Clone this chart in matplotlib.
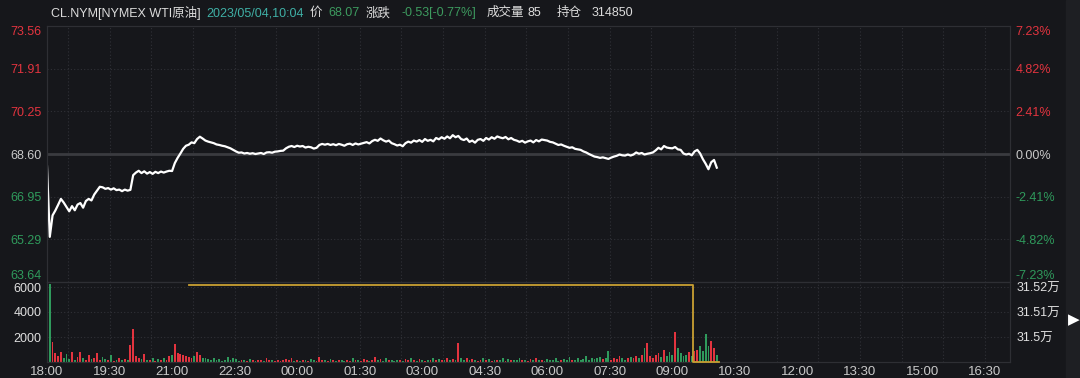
import numpy as np
import matplotlib.pyplot as plt
from matplotlib.patches import Rectangle

plt.rcParams['font.family'] = ['Liberation Sans', 'Noto Sans CJK SC', 'DejaVu Sans']

# data, one point every 4 minutes from 18:00
prev_close = 68.60
step_min = 4
price = [
    68.12, 65.39, 66.22, 66.41, 66.63, 66.86, 66.72, 66.55, 66.38, 66.58,
    66.42, 66.64, 66.70, 66.52, 66.78, 66.86, 66.80, 67.03, 67.18, 67.33,
    67.31, 67.25, 67.28, 67.22, 67.27, 67.20, 67.22, 67.16, 67.22, 67.18,
    67.21, 67.78, 67.88, 67.95, 67.86, 67.93, 67.84, 67.90, 67.83, 67.91,
    67.86, 67.92, 67.88, 67.92, 67.95, 67.94, 68.25, 68.45, 68.62, 68.80,
    68.92, 68.96, 69.05, 69.02, 69.18, 69.27, 69.20, 69.12, 69.08, 69.05,
    69.02, 68.97, 68.95, 68.92, 68.90, 68.86, 68.82, 68.76, 68.70, 68.65,
    68.66, 68.62, 68.64, 68.61, 68.63, 68.60, 68.62, 68.64, 68.60, 68.66,
    68.67, 68.65, 68.69, 68.70, 68.72, 68.73, 68.82, 68.88, 68.91, 68.87,
    68.92, 68.89, 68.91, 68.85, 68.88, 68.86, 68.81, 68.84, 68.95, 68.99,
    68.96, 68.99, 68.95, 68.98, 68.94, 68.99, 68.96, 68.92, 68.98, 69.00,
    68.95, 69.01, 68.97, 69.00, 69.03, 69.06, 69.01, 69.10, 69.15, 69.11,
    69.20, 69.13, 69.08, 69.12, 69.02, 68.98, 68.93, 68.96, 68.90, 69.02,
    69.08, 69.04, 69.12, 69.08, 69.14, 69.07, 69.18, 69.11, 69.15, 69.09,
    69.22, 69.17, 69.25, 69.19, 69.28, 69.21, 69.33, 69.25, 69.30, 69.18,
    69.14, 69.20, 69.07, 69.12, 69.04, 69.15, 69.18, 69.11, 69.22, 69.16,
    69.25, 69.19, 69.28, 69.24, 69.21, 69.26, 69.17, 69.22, 69.15, 69.12,
    69.07, 69.11, 69.04, 69.09, 69.12, 69.05, 69.14, 69.09, 69.16, 69.14,
    69.12, 69.07, 69.05, 69.00, 68.95, 68.97, 68.92, 68.88, 68.84, 68.86,
    68.80, 68.78, 68.76, 68.70, 68.66, 68.60, 68.55, 68.50, 68.48, 68.45,
    68.47, 68.44, 68.41, 68.46, 68.50, 68.53, 68.58, 68.55, 68.54, 68.58,
    68.54, 68.58, 68.66, 68.61, 68.64, 68.58, 68.61, 68.63, 68.66, 68.74,
    68.84, 68.78, 68.91, 68.85, 68.83, 68.82, 68.87, 68.78, 68.76, 68.62,
    68.58, 68.61, 68.55, 68.70, 68.76, 68.62, 68.40, 68.22, 68.01, 68.28,
    68.37, 68.07,
]
volume = [
    3800, 6240, 1600, 700, 450, 820, 300, 650, 250, 780,
    200, 400, 820, 350, 180, 600, 250, 300, 700, 150,
    400, 250, 180, 550, 120, 200, 300, 150, 250, 180,
    1360, 2640, 500, 300, 250, 650, 200, 150, 300, 120,
    250, 180, 350, 200, 500, 600, 1440, 750, 650, 550,
    500, 400, 300, 450, 800, 600, 350, 300, 250, 200,
    300, 150, 250, 120, 200, 400, 150, 300, 250, 120,
    150, 200, 100, 250, 150, 120, 200, 180, 120, 350,
    200, 150, 100, 180, 120, 200, 250, 150, 300, 120,
    180, 100, 150, 200, 120, 250, 150, 100, 400, 200,
    150, 120, 250, 180, 100, 200, 150, 120, 180, 100,
    300, 150, 200, 120, 250, 180, 100, 200, 400, 150,
    250, 120, 300, 180, 150, 100, 200, 180, 120, 250,
    200, 350, 150, 100, 250, 180, 120, 200, 150, 300,
    180, 250, 150, 200, 300, 180, 250, 200, 1500, 300,
    200, 350, 150, 250, 180, 120, 200, 300, 150, 250,
    120, 200, 180, 150, 300, 120, 250, 180, 200, 150,
    300, 150, 200, 120, 250, 180, 350, 150, 200, 120,
    250, 200, 150, 300, 120, 200, 250, 150, 400, 180,
    200, 300, 150, 250, 500, 200, 350, 250, 300, 400,
    250, 300, 880, 200, 300, 250, 450, 300, 200, 350,
    400, 300, 500, 350, 600, 1100, 1550, 450, 300, 600,
    700, 400, 1000, 500, 800, 600, 2430, 1100, 700, 500,
    600, 800, 500, 900, 1000, 1300, 900, 2240, 1300, 1700,
    1100, 600,
]
oi_minutes = [205, 930, 967]
oi_values = [315210, 314900, 314900]

price_ticks = [63.64, 65.29, 66.95, 68.60, 70.25, 71.91, 73.56]
pct_labels = ['-7.23%', '-4.82%', '-2.41%', '0.00%', '2.41%', '4.82%', '7.23%']
vol_ticks = [2000, 4000, 6000]
oi_ticks = [315000, 315100, 315200]
oi_labels = ['31.5万', '31.51万', '31.52万']
time_labels = ['18:00', '19:30', '21:00', '22:30', '00:00', '01:30', '03:00', '04:30',
               '06:00', '07:30', '09:00', '10:30', '12:00', '13:30', '15:00', '16:30']

bg = '#16171b'
red = '#e3343f'
green = '#2f9a5c'
grey = '#c9c9c9'
grid_c = '#303137'
spine_c = '#2e2f34'

minutes = np.arange(len(price)) * step_min
diffs = np.diff(price, prepend=prev_close)
bar_colors = [red if d > 0.004 else green if d < -0.004 else '#d8d8d8' for d in diffs]

fig = plt.figure(figsize=(10.8, 3.78), dpi=100, facecolor=bg)
fig.patches.append(Rectangle((1066 / 1080, 0), 14 / 1080, 1, transform=fig.transFigure,
                             color='#1e1f23', zorder=-5))

ax = fig.add_axes([47 / 1080, 96 / 378, 963 / 1080, 256 / 378])
axv = fig.add_axes([47 / 1080, 16 / 378, 963 / 1080, 80 / 378], sharex=ax)

for a in (ax, axv):
    a.set_facecolor(bg)
    for s in a.spines.values():
        s.set_color(spine_c)
    for m in np.arange(30, 1386, 60):
        a.axvline(m, color=grid_c, lw=0.8, ls=(0, (1, 2)), zorder=0)

ax.set_xlim(0, 1386)
ax.set_ylim(price_ticks[0], price_ticks[-1])
for p in price_ticks[1:-1]:
    if p == prev_close:
        ax.axhline(p, color='#3a3b40', lw=2, zorder=1)
    else:
        ax.axhline(p, color=grid_c, lw=0.8, ls=(0, (1, 2)), zorder=0)
ax.plot(minutes, price, color='white', lw=1.6, zorder=3)

ax.set_yticks(price_ticks)
ax.set_yticklabels([f'{p:.2f}' for p in price_ticks])
ax.tick_params(axis='y', length=0, pad=4, labelsize=9)
ax.tick_params(axis='x', length=0, labelbottom=False)

axp = ax.twinx()
axp.set_ylim(ax.get_ylim())
axp.set_yticks(price_ticks)
axp.set_yticklabels(pct_labels)
axp.tick_params(axis='y', length=0, pad=4, labelsize=9)
for s in axp.spines.values():
    s.set_color(spine_c)

for labels in (ax.get_yticklabels(), axp.get_yticklabels()):
    for lab, p in zip(labels, price_ticks):
        lab.set_color(red if p > prev_close else green if p < prev_close else grey)
    labels[0].set_verticalalignment('bottom')
    labels[-1].set_verticalalignment('top')

axv.bar(minutes, volume, width=2.6, color=bar_colors, zorder=2)
axv.set_ylim(0, 6400)
for v in vol_ticks:
    axv.axhline(v, color=grid_c, lw=0.8, ls=(0, (1, 2)), zorder=0)
axv.set_yticks(vol_ticks)
axv.tick_params(axis='y', length=0, pad=4, labelsize=9, labelcolor='#e0e0e0')
axv.set_xticks(np.arange(len(time_labels)) * 90)
axv.set_xticklabels(time_labels)
axv.tick_params(axis='x', length=0, pad=3, labelsize=9.5, labelcolor=grey)

axo = axv.twinx()
axo.set_ylim(314900, 315220)
axo.plot(oi_minutes, oi_values, drawstyle='steps-post', color='#c9a032', lw=1.3,
         clip_on=False, zorder=4)
axo.set_yticks(oi_ticks)
axo.set_yticklabels(oi_labels)
axo.tick_params(axis='y', length=0, pad=5, labelsize=9, labelcolor='#e0e0e0')
for s in axo.spines.values():
    s.set_color(spine_c)

# header line
y_head = 1 - 13 / 378
header = [
    (51, 'CL.NYM[NYMEX WTI原油]', '#dcdcdc'),
    (206, '2023/05/04,10:04', '#3fb0a6'),
    (310, '价', '#dcdcdc'),
    (328, '68.07', '#3d9b5f'),
    (366, '涨跌', '#dcdcdc'),
    (401, '-0.53[-0.77%]', '#3d9b5f'),
    (487, '成交量', '#dcdcdc'),
    (527, '85', '#dcdcdc'),
    (557, '持仓', '#dcdcdc'),
    (592, '314850', '#dcdcdc'),
]
for x, s, c in header:
    fig.text(x / 1080, y_head, s, color=c, fontsize=9, va='center', ha='left')

fig.text(1068 / 1080, 1 - 320 / 378, '▶', color='white', fontsize=11,
         va='center', ha='left', family='DejaVu Sans')

fig.savefig('out.png', dpi=100, facecolor=bg)
